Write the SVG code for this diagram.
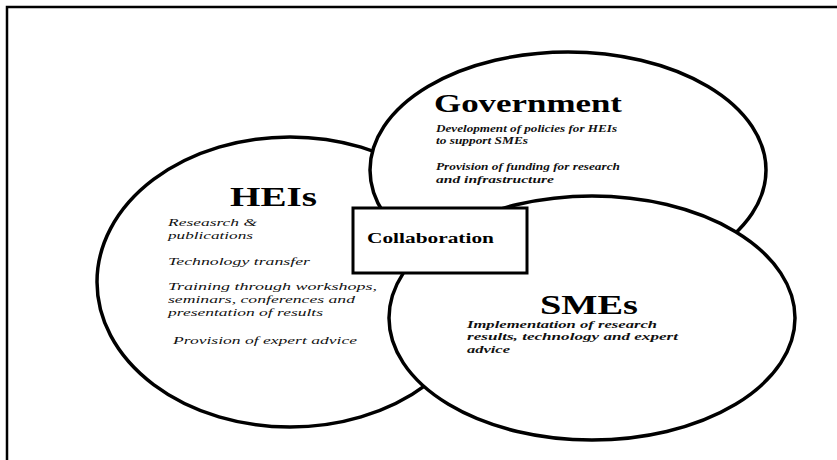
<svg xmlns="http://www.w3.org/2000/svg" width="837" height="460" viewBox="0 0 837 460">
  <style>
    .frame { fill: none; stroke: #000; stroke-width: 2.5; }
    .ring { fill: #fff; stroke: #000; stroke-width: 3.5; }
    .box { fill: #fff; stroke: #000; stroke-width: 3; }
    .title { font-family: "Liberation Serif", "Times New Roman", serif; font-weight: bold; fill: #000; }
    .item { font-family: "Liberation Serif", "Times New Roman", serif; font-style: italic; font-size: 11px; fill: #111; }
    .item-b { font-family: "Liberation Serif", "Times New Roman", serif; font-style: italic; font-weight: bold; font-size: 10.5px; fill: #111; }
  </style>

  <!-- outer frame: left and top rules only -->
  <path class="frame" d="M7,460 V7 H837"/>

  <!-- HEIs circle (bottom layer) -->
  <g id="heis">
    <ellipse class="ring" cx="290" cy="282" rx="193" ry="145"/>
  </g>

  <!-- Government circle -->
  <g id="government">
    <ellipse class="ring" cx="568" cy="170" rx="198" ry="118"/>
  </g>

  <!-- SMEs circle -->
  <g id="smes">
    <ellipse class="ring" cx="592" cy="318" rx="203" ry="122"/>
  </g>

  <!-- labels for the three circles -->
  <g id="heis-text">
    <text class="title" x="230" y="206" font-size="27" textLength="87" lengthAdjust="spacingAndGlyphs">HEIs</text>
    <text class="item" x="168" y="226" textLength="89" lengthAdjust="spacingAndGlyphs">Reseasrch &amp;</text>
    <text class="item" x="168" y="239" textLength="85" lengthAdjust="spacingAndGlyphs">publications</text>
    <text class="item" x="168" y="265" textLength="142" lengthAdjust="spacingAndGlyphs">Technology transfer</text>
    <text class="item" x="168" y="290" textLength="209" lengthAdjust="spacingAndGlyphs">Training through workshops,</text>
    <text class="item" x="168" y="303" textLength="187" lengthAdjust="spacingAndGlyphs">seminars, conferences and</text>
    <text class="item" x="168" y="316" textLength="155" lengthAdjust="spacingAndGlyphs">presentation of results</text>
    <text class="item" x="173" y="344" textLength="184" lengthAdjust="spacingAndGlyphs">Provision of expert advice</text>
  </g>

  <g id="government-text">
    <text class="title" x="434" y="112" font-size="26" textLength="188" lengthAdjust="spacingAndGlyphs">Government</text>
    <text class="item-b" x="436" y="132" textLength="181" lengthAdjust="spacingAndGlyphs">Development of policies for HEIs</text>
    <text class="item-b" x="436" y="144" textLength="92" lengthAdjust="spacingAndGlyphs">to support SMEs</text>
    <text class="item-b" x="436" y="170" textLength="184" lengthAdjust="spacingAndGlyphs">Provision of funding for research</text>
    <text class="item-b" x="436" y="183" textLength="118" lengthAdjust="spacingAndGlyphs">and infrastructure</text>
  </g>

  <g id="smes-text">
    <text class="title" x="540" y="314" font-size="27" textLength="98" lengthAdjust="spacingAndGlyphs">SMEs</text>
    <text class="item-b" x="467" y="328" textLength="190" lengthAdjust="spacingAndGlyphs">Implementation of research</text>
    <text class="item-b" x="467" y="340" textLength="211" lengthAdjust="spacingAndGlyphs">results, technology and expert</text>
    <text class="item-b" x="467" y="353" textLength="43" lengthAdjust="spacingAndGlyphs">advice</text>
  </g>

  <!-- central collaboration box (top layer) -->
  <g id="collaboration">
    <rect class="box" x="353" y="208" width="174" height="65"/>
    <text class="title" x="367" y="243" font-size="15" textLength="127" lengthAdjust="spacingAndGlyphs">Collaboration</text>
  </g>
</svg>
